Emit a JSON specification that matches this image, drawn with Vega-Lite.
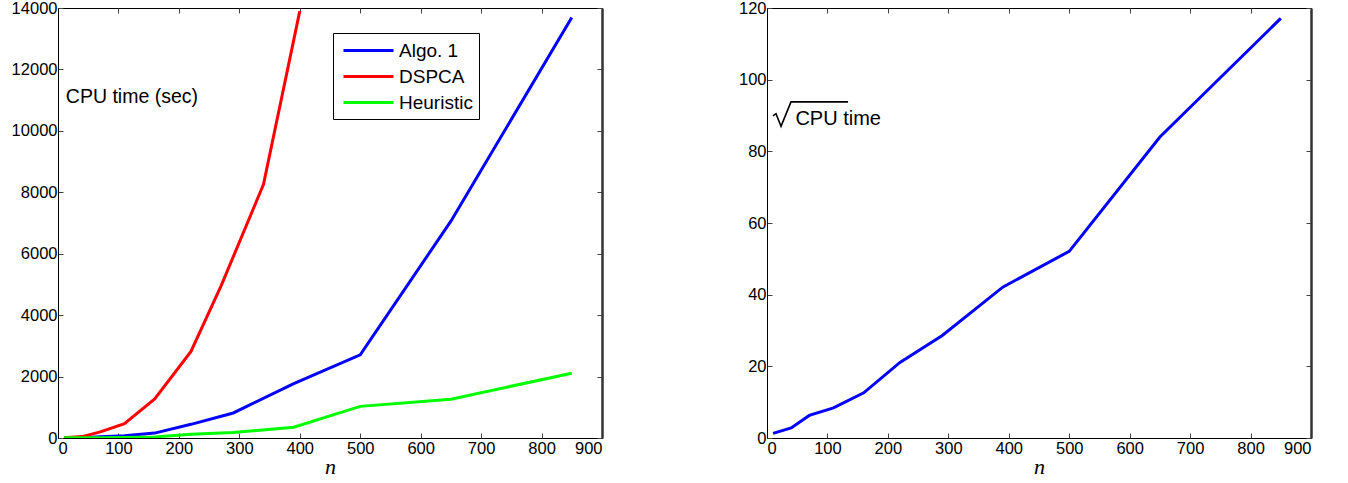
{
  "$schema": "https://vega.github.io/schema/vega-lite/v6.json",
  "background": "white",
  "padding": {"left": 10, "top": -1, "right": 5, "bottom": 5},
  "spacing": 134,
  "config": {
    "view": {"stroke": "black", "strokeWidth": 1},
    "font": "Liberation Sans",
    "axis": {
      "grid": false,
      "domainColor": "black",
      "tickColor": "#444444",
      "tickSize": -5,
      "format": "d",
      "labelFont": "Liberation Sans",
      "labelFontSize": 16.5,
      "labelColor": "black",
      "labelPadding": 7,
      "titleFont": "Liberation Serif",
      "titleFontStyle": "italic",
      "titleFontWeight": "normal",
      "titleFontSize": 22,
      "titleColor": "black"
    }
  },
  "datasets": {
    "left": [
      {"n": 10, "time": 1.4, "method": "Algo. 1"},
      {"n": 40, "time": 7.5, "method": "Algo. 1"},
      {"n": 70, "time": 40, "method": "Algo. 1"},
      {"n": 110, "time": 70, "method": "Algo. 1"},
      {"n": 160, "time": 160, "method": "Algo. 1"},
      {"n": 220, "time": 445, "method": "Algo. 1"},
      {"n": 290, "time": 815, "method": "Algo. 1"},
      {"n": 390, "time": 1770, "method": "Algo. 1"},
      {"n": 500, "time": 2710, "method": "Algo. 1"},
      {"n": 650, "time": 7060, "method": "Algo. 1"},
      {"n": 850, "time": 13690, "method": "Algo. 1"},
      {"n": 10, "time": 5, "method": "DSPCA"},
      {"n": 40, "time": 45, "method": "DSPCA"},
      {"n": 70, "time": 200, "method": "DSPCA"},
      {"n": 110, "time": 470, "method": "DSPCA"},
      {"n": 160, "time": 1270, "method": "DSPCA"},
      {"n": 220, "time": 2820, "method": "DSPCA"},
      {"n": 270, "time": 4960, "method": "DSPCA"},
      {"n": 340, "time": 8260, "method": "DSPCA"},
      {"n": 400, "time": 13900, "method": "DSPCA"},
      {"n": 10, "time": 5, "method": "Heuristic"},
      {"n": 40, "time": 8, "method": "Heuristic"},
      {"n": 70, "time": 12, "method": "Heuristic"},
      {"n": 110, "time": 20, "method": "Heuristic"},
      {"n": 160, "time": 35, "method": "Heuristic"},
      {"n": 220, "time": 120, "method": "Heuristic"},
      {"n": 290, "time": 180, "method": "Heuristic"},
      {"n": 390, "time": 350, "method": "Heuristic"},
      {"n": 500, "time": 1030, "method": "Heuristic"},
      {"n": 650, "time": 1265, "method": "Heuristic"},
      {"n": 850, "time": 2110, "method": "Heuristic"}
    ],
    "right": [
      {"n": 10, "s": 1.3},
      {"n": 40, "s": 2.8},
      {"n": 70, "s": 6.3},
      {"n": 110, "s": 8.4},
      {"n": 160, "s": 12.6},
      {"n": 220, "s": 21.1},
      {"n": 290, "s": 28.6},
      {"n": 390, "s": 42.1},
      {"n": 500, "s": 52.1},
      {"n": 650, "s": 84},
      {"n": 850, "s": 117.1}
    ],
    "leftLabel": [{"n": 13, "v": 10900, "t": "CPU time (sec)"}],
    "rightLabel": [{"n": 47, "v": 87.4, "t": "CPU time"}],
    "radical": [
      {"i": 1, "n": 9.9, "v": 89.9},
      {"i": 2, "n": 14.9, "v": 90.5},
      {"i": 3, "n": 23.2, "v": 87.0},
      {"i": 4, "n": 39.7, "v": 93.8},
      {"i": 5, "n": 134.1, "v": 93.8}
    ]
  },
  "hconcat": [
    {
      "width": 544,
      "height": 430,
      "layer": [
        {
          "data": {"name": "left"},
          "mark": {"type": "line", "opacity": 0},
          "encoding": {
            "x": {"field": "n", "type": "quantitative", "scale": {"domain": [0, 900], "nice": false}, "axis": {"orient": "top", "values": [0,100,200,300,400,500,600,700,800,900], "labels": false, "title": null, "domain": false}},
            "y": {"field": "time", "type": "quantitative", "scale": {"domain": [0, 14000], "nice": false}, "axis": {"orient": "right", "values": [0,2000,4000,6000,8000,10000,12000,14000], "labels": false, "title": null, "domain": true, "domainColor": "#333333", "domainWidth": 2.5}}
          }
        },
        {
          "data": {"name": "left"},
          "mark": {"type": "line", "strokeWidth": 3, "clip": true},
          "encoding": {
            "x": {"field": "n", "type": "quantitative",
                  "axis": {"orient": "bottom", "values": [0,100,200,300,400,500,600,700,800,900], "title": "n", "titlePadding": 0}},
            "y": {"field": "time", "type": "quantitative",
                  "axis": {"orient": "left", "values": [0,2000,4000,6000,8000,10000,12000,14000], "title": null, "labelPadding": 6}},
            "color": {"field": "method", "type": "nominal",
              "scale": {"domain": ["Algo. 1", "DSPCA", "Heuristic"], "range": ["#0000ff", "#ff0000", "#00ff00"]},
              "legend": {
                "title": null, "orient": "none", "legendX": 275, "legendY": 25,
                "symbolType": "M-2.5,0H2.5", "symbolStrokeWidth": 3, "symbolSize": 400,
                "symbolOffset": 18,
                "labelFontSize": 19, "labelFont": "Liberation Sans", "labelColor": "black",
                "strokeColor": "black", "padding": 6, "rowPadding": 4, "labelOffset": 19,
                "fillColor": "white"
              }
            }
          }
        },
        {
          "data": {"name": "leftLabel"},
          "mark": {"type": "text", "align": "left", "baseline": "alphabetic", "fontSize": 19.5, "font": "Liberation Sans", "color": "black"},
          "encoding": {
            "x": {"field": "n", "type": "quantitative", "axis": null},
            "y": {"field": "v", "type": "quantitative", "axis": null},
            "text": {"field": "t"}
          }
        }
      ],
      "resolve": {"axis": {"x": "independent", "y": "independent"}}
    },
    {
      "width": 544,
      "height": 430,
      "layer": [
        {
          "data": {"name": "right"},
          "mark": {"type": "line", "opacity": 0},
          "encoding": {
            "x": {"field": "n", "type": "quantitative", "scale": {"domain": [0, 900], "nice": false}, "axis": {"orient": "top", "values": [0,100,200,300,400,500,600,700,800,900], "labels": false, "title": null, "domain": false}},
            "y": {"field": "s", "type": "quantitative", "scale": {"domain": [0, 120], "nice": false}, "axis": {"orient": "right", "values": [0,20,40,60,80,100,120], "labels": false, "title": null, "domain": true, "domainColor": "#333333", "domainWidth": 2.5}}
          }
        },
        {
          "data": {"name": "right"},
          "mark": {"type": "line", "strokeWidth": 3, "color": "#0000ff"},
          "encoding": {
            "x": {"field": "n", "type": "quantitative",
                  "axis": {"orient": "bottom", "values": [0,100,200,300,400,500,600,700,800,900], "title": "n", "titlePadding": 0}},
            "y": {"field": "s", "type": "quantitative",
                  "axis": {"orient": "left", "values": [0,20,40,60,80,100,120], "title": null, "labelPadding": 6}}
          }
        },
        {
          "data": {"name": "rightLabel"},
          "mark": {"type": "text", "align": "left", "baseline": "alphabetic", "fontSize": 20, "font": "Liberation Sans", "color": "black"},
          "encoding": {
            "x": {"field": "n", "type": "quantitative", "axis": null},
            "y": {"field": "v", "type": "quantitative", "axis": null},
            "text": {"field": "t"}
          }
        },
        {
          "data": {"name": "radical"},
          "mark": {"type": "line", "color": "black", "strokeWidth": 1.6},
          "encoding": {
            "x": {"field": "n", "type": "quantitative", "axis": null},
            "y": {"field": "v", "type": "quantitative", "axis": null},
            "order": {"field": "i"}
          }
        }
      ],
      "resolve": {"axis": {"x": "independent", "y": "independent"}}
    }
  ]
}
